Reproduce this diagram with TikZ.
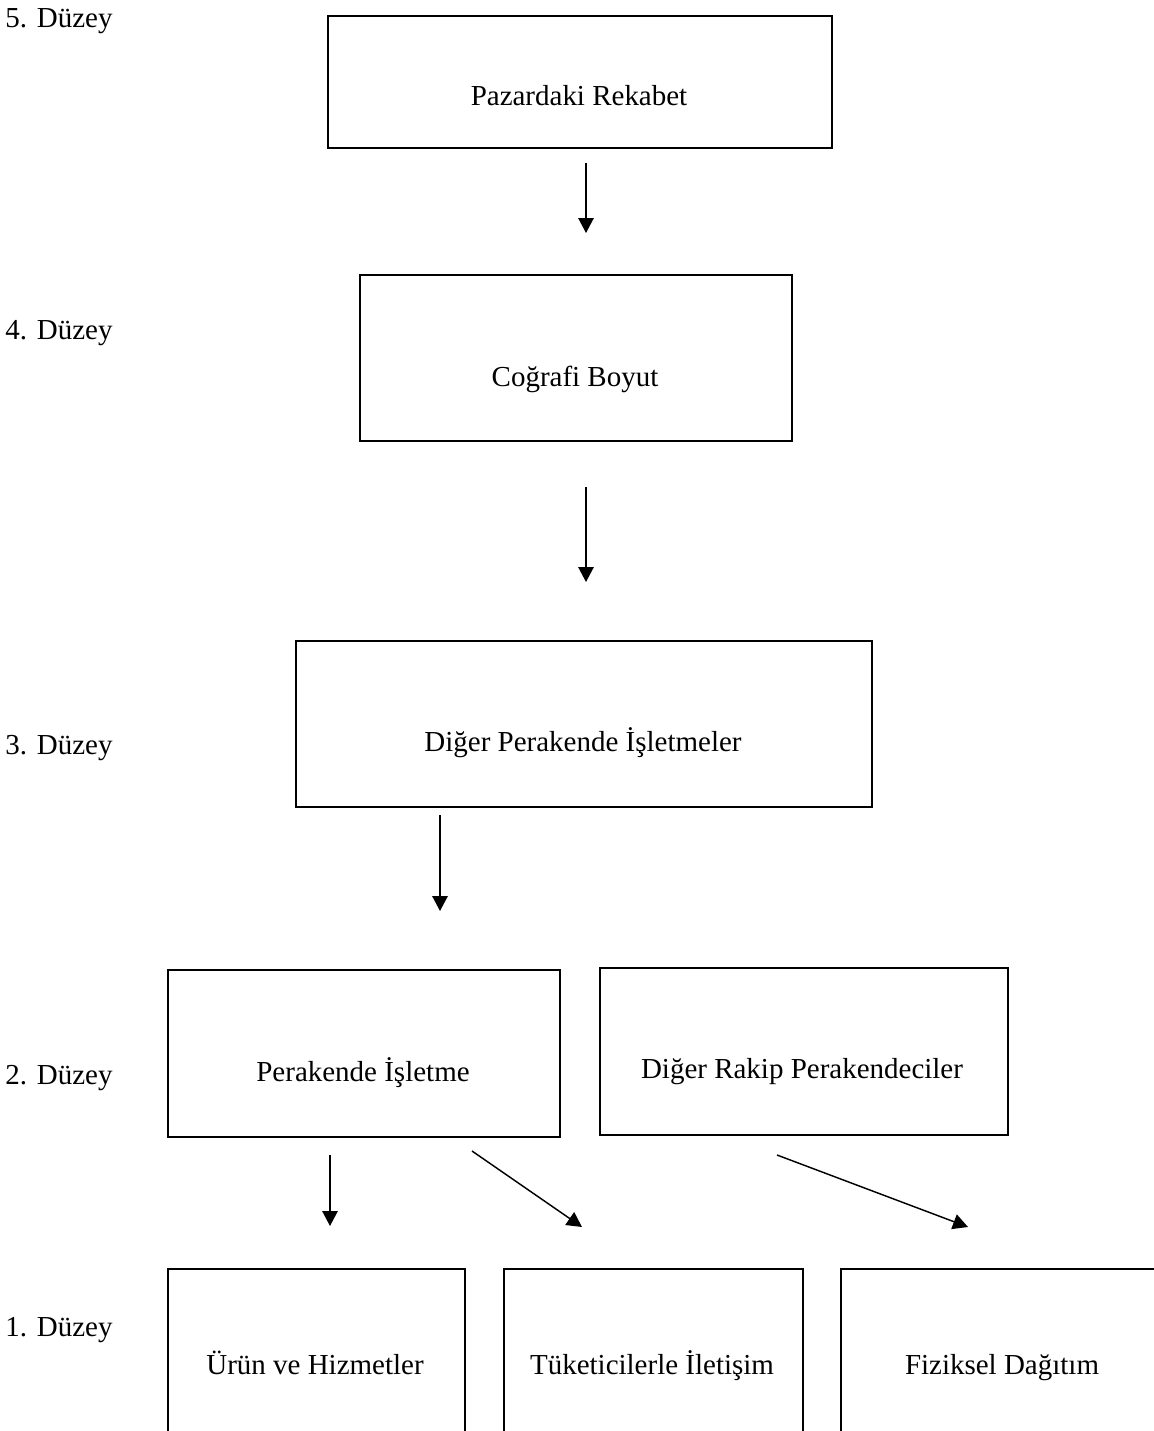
\documentclass[tikz,border=0pt]{standalone}
\usepackage{fontspec}
\setmainfont{Liberation Serif}
\usetikzlibrary{arrows.meta}

\begin{document}
\begin{tikzpicture}[
  x=0.414pt, y=-0.414pt,
  >={Triangle[length=6.2pt, width=6.4pt]},
  kutu/.style={draw, line width=0.8pt, inner sep=0pt, anchor=north west},
  yazi/.style={font=\fontsize{12}{14}\selectfont, inner sep=0pt, anchor=base},
  duzey/.style={font=\fontsize{12}{14}\selectfont, inner sep=0pt, anchor=base west},
  ok/.style={->, line width=0.6pt},
]

%% ─── sayfa ──────────────────────────────────────────────────
\clip (0,0) rectangle (1154,1431);

% ── düzey etiketleri ────────────────────────────────────────
\node[duzey] (d5) at (5,28)   {5. Düzey};
\node[duzey] (d4) at (5,340)  {4. Düzey};
\node[duzey] (d3) at (5,754)  {3. Düzey};
\node[duzey] (d2) at (5,1084) {2. Düzey};
\node[duzey] (d1) at (5,1336) {1. Düzey};

% ── 5. düzey ────────────────────────────────────────────────
\node[kutu, minimum width=504*0.414pt, minimum height=132*0.414pt]
  (rekabet) at (327,15) {};
\node[yazi] (trekabet) at (579,106) {Pazardaki Rekabet};

% ── 4. düzey ────────────────────────────────────────────────
\node[kutu, minimum width=432*0.414pt, minimum height=166*0.414pt]
  (cografi) at (359,274) {};
\node[yazi] (tcografi) at (575,386) {Coğrafi Boyut};

% ── 3. düzey ────────────────────────────────────────────────
\node[kutu, minimum width=576*0.414pt, minimum height=166*0.414pt]
  (diger) at (295,640) {};
\node[yazi] (tdiger) at (583,751) {Diğer Perakende İşletmeler};

% ── 2. düzey ────────────────────────────────────────────────
\node[kutu, minimum width=392*0.414pt, minimum height=167*0.414pt]
  (isletme) at (167,969) {};
\node[yazi] (tisletme) at (363,1081) {Perakende İşletme};
\node[kutu, minimum width=408*0.414pt, minimum height=167*0.414pt]
  (rakip) at (599,967) {};
\node[yazi] (trakip) at (802,1078) {Diğer Rakip Perakendeciler};

% ── 1. düzey (alt kenar sayfa dışında) ──────────────────────
\node[kutu, minimum width=297*0.414pt, minimum height=250*0.414pt]
  (urun) at (167,1268) {};
\node[yazi] (turun) at (315,1374) {Ürün ve Hizmetler};
\node[kutu, minimum width=299*0.414pt, minimum height=250*0.414pt]
  (iletisim) at (503,1268) {};
\node[yazi] (tiletisim) at (652,1374) {Tüketicilerle İletişim};
\node[kutu, minimum width=330*0.414pt, minimum height=250*0.414pt]
  (dagitim) at (840,1268) {};
\node[yazi] (tdagitim) at (1002,1374) {Fiziksel Dağıtım};

% ── oklar ───────────────────────────────────────────────────
\coordinate (o1a) at (586,163);  \coordinate (o1b) at (586,233);
\coordinate (o2a) at (586,487);  \coordinate (o2b) at (586,582);
\coordinate (o3a) at (440,815);  \coordinate (o3b) at (440,911);
\coordinate (o4a) at (330,1155); \coordinate (o4b) at (330,1226);
\coordinate (o5a) at (472,1151); \coordinate (o5b) at (582,1227);
\coordinate (o6a) at (777,1155); \coordinate (o6b) at (968,1227);

\draw[ok] (o1a) -- (o1b);
\draw[ok] (o2a) -- (o2b);
\draw[ok] (o3a) -- (o3b);
\draw[ok] (o4a) -- (o4b);
\draw[ok] (o5a) -- (o5b);
\draw[ok] (o6a) -- (o6b);

\end{tikzpicture}
\end{document}
